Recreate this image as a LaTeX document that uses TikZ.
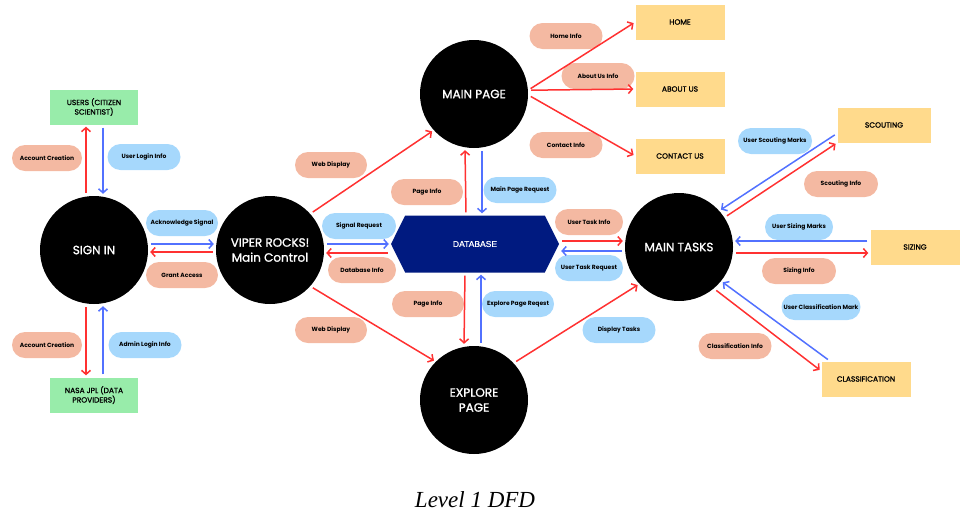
\documentclass[tikz,border=0pt]{standalone}
\usepackage{fontspec}
\setmainfont{Poppins}
\newfontfamily\medfont{Poppins}[FakeBold=1.2]
\newfontfamily\capfont{Liberation Serif}
\newfontfamily\dbfont{Liberation Sans}[FakeBold=0.8]
\usetikzlibrary{arrows.meta,shapes.symbols}
\definecolor{extgreen}{RGB}{152,236,170}
\definecolor{pageyellow}{RGB}{255,218,140}
\definecolor{salm}{RGB}{244,185,162}
\definecolor{lblue}{RGB}{166,216,252}
\definecolor{navy}{RGB}{0,26,128}
\definecolor{flowred}{RGB}{255,49,49}
\definecolor{flowblue}{RGB}{82,113,255}
\begin{document}
\begin{tikzpicture}[x=1pt,y=-1pt,
    proc/.style={circle,fill=black,minimum size=108pt,inner sep=0pt,text=white,
      align=center,font=\medfont\fontsize{12}{15}\selectfont},
    ext/.style={rectangle,fill=extgreen,minimum width=88pt,minimum height=35pt,
      inner sep=0pt,align=center,font=\medfont\fontsize{7.5}{9.5}\selectfont},
    page/.style={rectangle,fill=pageyellow,minimum width=89pt,minimum height=35pt,
      inner sep=0pt,font=\medfont\fontsize{7.5}{9.5}\selectfont},
    store/.style={signal,signal to=east and west,signal pointer angle=127,fill=navy,
      minimum width=168pt,minimum height=57pt,inner sep=0pt,text=white,
      font=\dbfont\fontsize{8.5}{10}\selectfont},
    pill/.style={rectangle,rounded corners=13pt,minimum height=26pt,minimum width=73pt,
      inner sep=1pt,font=\fontsize{6}{7}\selectfont\bfseries},
    rflow/.style={draw=flowred,line width=1.5pt,-{Straight Barb[length=4pt,width=9pt]},
      shorten <=3pt,shorten >=2pt},
    bflow/.style={draw=flowblue,line width=1.5pt,-{Straight Barb[length=4pt,width=9pt]},
      shorten <=3pt,shorten >=2pt}]
  \useasboundingbox (0,0) rectangle (965,520);

  \node[proc] (sign) at (94,250) {SIGN IN};
  \node[proc] (viper) at (270,250) {VIPER ROCKS!\\Main Control};
  \node[proc] (mainpage) at (474,94) {MAIN PAGE};
  \node[proc] (explore) at (474,400) {EXPLORE\\PAGE};
  \node[proc] (tasks) at (679,247) {MAIN TASKS};
  \node[store] (db) at (475,244) {DATABASE};

  \node[ext] (users) at (94,107) {USERS (CITIZEN\\SCIENTIST)};
  \node[ext] (nasa) at (94,395) {NASA JPL (DATA\\PROVIDERS)};
  \node[page] (home) at (680,22) {HOME};
  \node[page] (about) at (680,89) {ABOUT US};
  \node[page] (contact) at (680,156) {CONTACT US};
  \node[page,minimum width=93pt] (scouting) at (884,125) {SCOUTING};
  \node[page] (sizing) at (915,247) {SIZING};
  \node[page] (classif) at (866,379) {CLASSIFICATION};

  \foreach \n/\c/\x/\y/\w/\t in {
      acc1/salm/47/158/70/Account Creation, ulogin/lblue/144/157/73/User Login Info,
      acc2/salm/47/345/70/Account Creation, alogin/lblue/145/345/73/Admin Login Info,
      ack/lblue/182/223/72/Acknowledge Signal, grant/salm/182/275/72/Grant Access,
      web1/salm/331/165/72/Web Display, sigreq/lblue/359/226/74/Signal Request,
      dbinfo/salm/362/270/68/Database Info, web2/salm/331/330/72/Web Display,
      pinfo1/salm/427/192/72/Page Info, mpreq/lblue/520/190/73/Main Page Request,
      pinfo2/salm/428/304/72/Page Info, epreq/lblue/518/304/72/Explore Page Reqest,
      utinfo/salm/589/222/68/User Task Info, utreq/lblue/589/268/68/User Task Request,
      disp/lblue/619/330/73/Display Tasks, hinfo/salm/566/36/73/Home Info,
      ainfo/salm/598/76/73/About Us Info, cinfo/salm/566/145/73/Contact Info,
      uscout/lblue/775/141/74/User Scouting Marks, scinfo/salm/841/184/74/Scouting Info,
      usize/lblue/799/227/68/User Sizing Marks, szinfo/salm/799/271/74/Sizing Info,
      uclass/lblue/821/307/79/User Classification Mark,
      clinfo/salm/735/346/73/Classification Info}{
    \node[pill,fill=\c,minimum width=\w pt] (\n) at (\x,\y) {\t};
  }

  \draw[rflow] ([xshift=-8pt]sign.north) -- ([xshift=-8pt]users.south);
  \draw[bflow] ([xshift=9pt]users.south) -- ([xshift=9pt]sign.north);
  \draw[rflow] ([xshift=-8pt]sign.south) -- ([xshift=-8pt]nasa.north);
  \draw[bflow] ([xshift=9pt]nasa.north) -- ([xshift=9pt]sign.south);
  \draw[bflow] ([yshift=6pt]sign.east) -- ([yshift=6pt]viper.west);
  \draw[rflow] ([yshift=-2pt]viper.west) -- ([yshift=-2pt]sign.east);

  \draw[bflow] ([yshift=6pt]viper.east) -- (db.west);
  \draw[rflow] ([yshift=-9pt]db.west) -- ([yshift=-3pt]viper.east);
  \draw[rflow] (viper.42) -- (mainpage.222);
  \draw[rflow] (viper.318) -- (explore.135);

  \draw[rflow] ([xshift=-9pt]db.north) -- ([xshift=-9pt]mainpage.south);
  \draw[bflow] ([xshift=8pt]mainpage.south) -- ([xshift=7pt]db.north);
  \draw[rflow] ([xshift=-10pt]db.south) -- ([xshift=-10pt]explore.north);
  \draw[bflow] ([xshift=7pt]explore.north) -- ([xshift=6pt]db.south);
  \draw[rflow] ([yshift=3pt]db.east) -- ([yshift=6pt]tasks.west);
  \draw[bflow] ([yshift=-4pt]tasks.west) -- ([yshift=-7pt]db.east);
  \draw[rflow] (explore.43) -- (tasks.223);

  \draw[rflow] (mainpage.4) -- (home.west);
  \draw[rflow] (mainpage.4) -- (about.west);
  \draw[rflow] (mainpage.-1) -- (contact.west);

  \draw[bflow] (scouting.190) -- (tasks.42);
  \draw[rflow] (tasks.33) -- (scouting.south west);
  \draw[bflow] ([yshift=6pt]sizing.west) -- ([yshift=6pt]tasks.east);
  \draw[rflow] ([yshift=-6pt]tasks.east) -- ([yshift=-6pt]sizing.west);
  \draw[bflow] ([xshift=9pt]classif.north west) -- (tasks.321);
  \draw[rflow] (tasks.310) -- (classif.170);

  \node[font=\capfont\itshape\fontsize{23}{26}\selectfont] (caption) at (475,500) {Level 1 DFD};
\end{tikzpicture}
\end{document}
